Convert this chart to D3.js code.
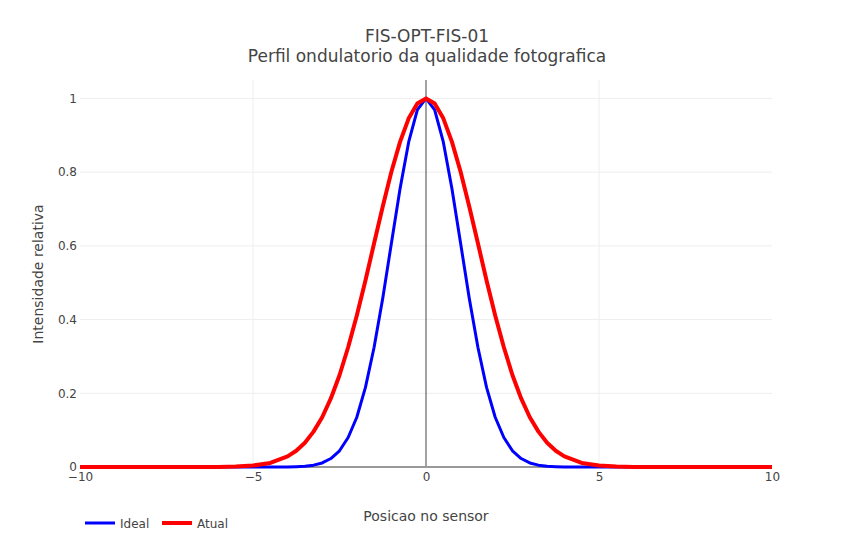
<!DOCTYPE html>
<html>
<head>
    <meta charset="utf-8">
    <title>FIS-OPT-FIS-01</title>
    <script src="https://d3js.org/d3.v7.min.js"></script>
    <style>
        body { margin: 0; background: #fff; }
        svg text { font-family: "DejaVu Sans", Verdana, sans-serif; }
        .tick text { fill: #444; font-size: 12px; }
    </style>
</head>
<body>
    <svg width="853" height="550"></svg>
    <script>
        // data
        const xValues = [-10, -8, -6, -5.5, -5, -4.5, -4, -3.75, -3.5, -3.25, -3, -2.75, -2.5, -2.25, -2, -1.75, -1.5, -1.25, -1, -0.75, -0.5, -0.25,
            0, 0.25, 0.5, 0.75, 1, 1.25, 1.5, 1.75, 2, 2.25, 2.5, 2.75, 3, 3.25, 3.5, 3.75, 4, 4.5, 5, 5.5, 6, 8, 10];
        const ideal = [0, 0, 0, 0, 0, 0, 0.0003, 0.0009, 0.002, 0.005, 0.011, 0.023, 0.044, 0.08, 0.135, 0.216, 0.325, 0.458, 0.607, 0.755, 0.882, 0.969,
            1, 0.969, 0.882, 0.755, 0.607, 0.458, 0.325, 0.216, 0.135, 0.08, 0.044, 0.023, 0.011, 0.005, 0.002, 0.0009, 0.0003, 0, 0, 0, 0, 0, 0];
        const atual = [0, 0, 0.0003, 0.0012, 0.004, 0.011, 0.029, 0.044, 0.066, 0.096, 0.135, 0.186, 0.249, 0.325, 0.411, 0.506, 0.607, 0.707, 0.801, 0.882, 0.946, 0.986,
            1, 0.986, 0.946, 0.882, 0.801, 0.707, 0.607, 0.506, 0.411, 0.325, 0.249, 0.186, 0.135, 0.096, 0.066, 0.044, 0.029, 0.011, 0.004, 0.0012, 0.0003, 0, 0];
        const xTicks = [-10, -5, 0, 5, 10];
        const yTicks = [0, 0.2, 0.4, 0.6, 0.8, 1];
        const seriesNames = ["Ideal", "Atual"];
        const seriesColors = ["#0000ff", "#ff0000"];

        const margin = { top: 80, right: 81, bottom: 82, left: 80 };
        const width = 853 - margin.left - margin.right;
        const height = 550 - margin.top - margin.bottom;

        const svg = d3.select("svg");
        const g = svg.append("g")
            .attr("transform", `translate(${margin.left}, ${margin.top})`);

        const xScale = d3.scaleLinear().domain([-10, 10]).range([0, width]);
        const yScale = d3.scaleLinear().domain([-0.0027, 1.05]).range([height, 0]);

        // grid
        g.append("g").selectAll("line")
            .data(xTicks.filter(d => d !== 0 && d !== -10 && d !== 10))
            .enter().append("line")
            .attr("x1", d => xScale(d)).attr("x2", d => xScale(d))
            .attr("y1", 0).attr("y2", height)
            .attr("stroke", "#eee").attr("stroke-width", 1);
        g.append("g").selectAll("line")
            .data(yTicks.filter(d => d !== 0))
            .enter().append("line")
            .attr("x1", 0).attr("x2", width)
            .attr("y1", d => yScale(d)).attr("y2", d => yScale(d))
            .attr("stroke", "#eee").attr("stroke-width", 1);

        // zero lines
        g.append("line")
            .attr("x1", xScale(0)).attr("x2", xScale(0))
            .attr("y1", 0).attr("y2", height)
            .attr("stroke", "#444").attr("stroke-width", 1);
        g.append("line")
            .attr("x1", 0).attr("x2", width)
            .attr("y1", yScale(0)).attr("y2", yScale(0))
            .attr("stroke", "#999").attr("stroke-width", 2);

        // axes
        const xAxis = d3.axisBottom(xScale).tickValues(xTicks).tickSize(0).tickPadding(4)
            .tickFormat(d => d < 0 ? "\u2212" + Math.abs(d) : d);
        const yAxis = d3.axisLeft(yScale).tickValues(yTicks).tickSize(0).tickPadding(3)
            .tickFormat(d => d);

        g.append("g")
            .attr("transform", `translate(0, ${height})`)
            .call(xAxis)
            .call(a => a.select(".domain").remove());
        g.append("g")
            .call(yAxis)
            .call(a => a.select(".domain").remove());

        // lines
        const line = d3.line()
            .x((d, i) => xScale(xValues[i]))
            .y(d => yScale(d));

        [ideal, atual].forEach((s, k) => {
            g.append("path")
                .datum(s)
                .attr("fill", "none")
                .attr("stroke", seriesColors[k])
                .attr("stroke-width", k === 0 ? 3 : 4)
                .attr("stroke-linejoin", "round")
                .attr("d", line);
        });

        // titles
        svg.append("text")
            .attr("x", 427).attr("y", 42)
            .attr("text-anchor", "middle")
            .attr("fill", "#444").style("font-size", "17px")
            .text("FIS-OPT-FIS-01");
        svg.append("text")
            .attr("x", 427).attr("y", 62)
            .attr("text-anchor", "middle")
            .attr("fill", "#444").style("font-size", "17px")
            .text("Perfil ondulatorio da qualidade fotografica");

        svg.append("text")
            .attr("x", margin.left + width / 2).attr("y", 521)
            .attr("text-anchor", "middle")
            .attr("fill", "#444").style("font-size", "14px")
            .text("Posicao no sensor");
        svg.append("text")
            .attr("transform", "rotate(-90)")
            .attr("x", -(margin.top + height / 2)).attr("y", 43)
            .attr("text-anchor", "middle")
            .attr("fill", "#444").style("font-size", "14px")
            .text("Intensidade relativa");

        // legend
        const legend = svg.append("g").attr("transform", "translate(85, 523)");
        const items = legend.selectAll("g")
            .data(seriesNames)
            .enter().append("g")
            .attr("transform", (d, i) => `translate(${i * 77}, 0)`);
        items.append("line")
            .attr("x1", 0).attr("x2", 30)
            .attr("stroke", (d, i) => seriesColors[i])
            .attr("stroke-width", (d, i) => i === 0 ? 3 : 4);
        items.append("text")
            .attr("x", 35).attr("y", 4.5)
            .attr("fill", "#444").style("font-size", "12px")
            .text(d => d);
    </script>
</body>
</html>
